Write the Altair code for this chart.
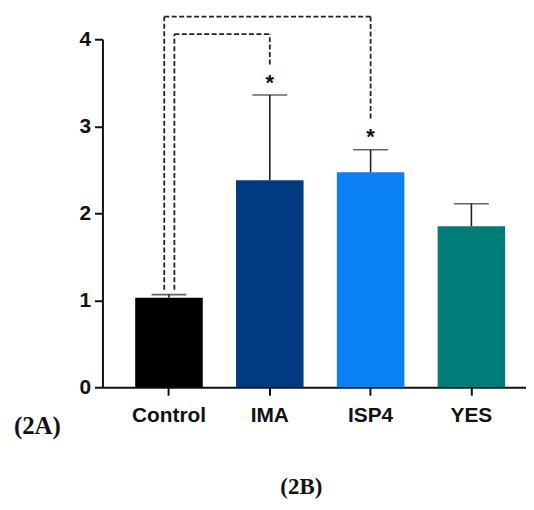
import altair as alt
import pandas as pd

categories = ["Control", "IMA", "ISP4", "YES"]
means = [1.03, 2.38, 2.47, 1.85]
upper = [1.065, 3.36, 2.73, 2.11]
colors = ["#000000", "#003A7F", "#0A80F5", "#007D78"]

# significance brackets (Control vs IMA, Control vs ISP4)
sig_to = ["IMA", "ISP4"]
sig_leg_pos = [0.58, 0.43]       # where the left leg leaves the Control band
sig_low = [1.12, 1.12]           # bottom of left leg
sig_top = [4.06, 4.26]           # bracket height
sig_end = [3.71, 3.09]           # bottom of right leg
star_y = [3.57, 2.95]

bars = pd.DataFrame({"cat": categories, "mean": means, "upper": upper})
stars = pd.DataFrame({"cat": sig_to, "y": star_y, "t": ["*", "*"]})

xscale = alt.Scale(domain=categories, paddingInner=0.33, paddingOuter=0.325, range=[0, 438])
yscale = alt.Scale(domain=[0, 4], nice=False)

x_axis = alt.Axis(
    title="(2A)", titleFont="Liberation Serif", titleFontSize=25, titleFontWeight="bold",
    titleColor="#111111", titleX=-66, titleY=47, titleAlign="center", titleBaseline="alphabetic",
    labelAngle=0, labelFont="Liberation Sans", labelFontSize=21, labelFontWeight="bold",
    labelColor="#111111", labelPadding=9, tickSize=8, tickWidth=2, tickColor="#111111",
    domainWidth=2, domainColor="#111111", grid=False,
)
y_axis = alt.Axis(
    title=None, values=[0, 1, 2, 3, 4], format="d", labelFont="Liberation Sans", labelFontSize=21,
    labelFontWeight="bold", labelColor="#111111", labelPadding=4, tickSize=8, tickWidth=2,
    tickColor="#111111", domainWidth=2, domainColor="#111111", grid=False,
)

X = lambda **kw: alt.X("cat:N", scale=xscale, axis=x_axis, sort=categories, **kw)

bar = alt.Chart(bars).mark_bar().encode(
    x=X(),
    y=alt.Y("mean:Q", scale=yscale, axis=y_axis),
    color=alt.Color("cat:N", scale=alt.Scale(domain=categories, range=colors), legend=None),
)
err = alt.Chart(bars).mark_rule(color="#222222", strokeWidth=1.6).encode(
    x=X(), y="mean:Q", y2="upper:Q"
)
cap = alt.Chart(bars).mark_tick(color="#222222", thickness=1.6, size=35).encode(
    x=X(), y="upper:Q"
)

layers = [bar, err, cap]
dash = dict(color="#222222", strokeWidth=1.8, strokeDash=[5, 2.5])
for i in range(len(sig_to)):
    row = pd.DataFrame({"cat": ["Control"], "to": [sig_to[i]], "low": [sig_low[i]],
                        "top": [sig_top[i]], "end": [sig_end[i]]})
    leg = alt.Chart(row).mark_rule(**dash).encode(
        x=X(bandPosition=sig_leg_pos[i]), y="low:Q", y2="top:Q")
    hor = alt.Chart(row).mark_rule(**dash).encode(
        x=X(bandPosition=sig_leg_pos[i]), x2="to:N", y="top:Q")
    right = alt.Chart(row).mark_rule(**dash).encode(
        x=alt.X("to:N", scale=xscale, axis=x_axis, sort=categories), y="end:Q", y2="top:Q")
    layers += [leg, hor, right]

star = alt.Chart(stars).mark_text(
    font="Liberation Sans", fontSize=22, fontWeight="bold", color="#111111", baseline="middle", dy=6
).encode(x=X(), y="y:Q", text="t:N")
layers.append(star)

chart = alt.layer(*layers).properties(
    width=426, height=350,
    title=alt.TitleParams("(2B)", orient="bottom", font="Liberation Serif", fontSize=23,
                          fontWeight="bold", color="#111111", anchor="middle", dx=-13, offset=37),
    autosize=alt.AutoSizeParams(type="none"),
    padding={"left": 95, "top": 30, "right": 0, "bottom": 114},
).configure_view(stroke=None)

chart.save("out.html", embed_options={"renderer": "svg", "actions": False})
